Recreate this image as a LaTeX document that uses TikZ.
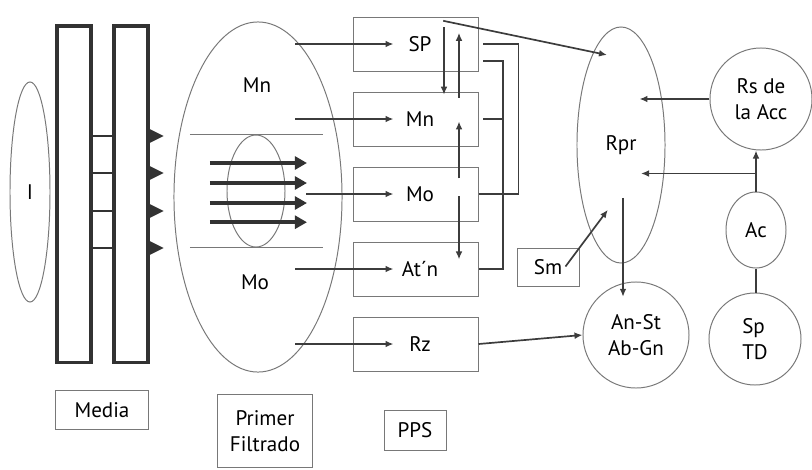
\documentclass[tikz,border=0pt]{standalone}
\usepackage{fontspec}
\setmainfont{PT Sans}
\usetikzlibrary{arrows.meta,positioning,shapes.geometric}
\definecolor{boxgray}{RGB}{120,120,120}
\definecolor{wiregray}{RGB}{60,60,60}
\definecolor{bargray}{RGB}{50,50,50}

\begin{document}
\begin{tikzpicture}[x=0.025cm,y=-0.025cm,>={Latex[length=2mm,width=1.7mm]},
    font=\fontsize{15}{18}\selectfont,node distance=0.5cm]
        \useasboundingbox (0,0) rectangle (812,469);
        \tikzset{
          box/.style={draw=boxgray,line width=0.7pt,minimum width=3.1cm,minimum height=1.35cm},
          tag/.style={draw=boxgray,line width=0.7pt},
          blob/.style={draw=boxgray,line width=0.7pt,ellipse,inner sep=0pt},
          wire/.style={wiregray,line width=1.2pt},
          bar/.style={draw=bargray,line width=2.2pt,minimum width=0.85cm,minimum height=8.4cm},
          flow/.style={-{Triangle[length=3mm,width=3.2mm]},bargray,line width=2.8pt}
        }
        % media
        \node[blob,minimum width=1cm,minimum height=5.5cm] (ins) at (30,192) {I};
        \node[bar] (barl) at (74,194) {};
        \node[bar] (barr) at (131,194) {};
        \foreach \y in {136,173,211,248} {
          \draw[bargray,line width=1.6pt] (barl.east |- 0,\y) -- (barr.west |- 0,\y);
          \fill[bargray] (barr.east |- 0,\y-7) -- ++(14,7) -- ++(-14,7) -- cycle;
        }
        \node[tag,minimum width=2.33cm,minimum height=0.98cm] (media) at (102,410) {Media};

        % primer filtrado
        \node[blob,minimum width=4.2cm,minimum height=8.75cm] (fil) at (258,197) {};
        \node (mnf) at (257,85) {Mn};
        \node (mof) at (255,282) {Mo};
        \node[blob,minimum width=1.45cm,minimum height=2.8cm] (core) at (256,191) {};
        \draw[boxgray,line width=0.7pt] ([xshift=-1.65cm]core.north) -- ([xshift=1.67cm]core.north);
        \draw[boxgray,line width=0.7pt] ([xshift=-1.65cm]core.south) -- ([xshift=1.67cm]core.south);
        \foreach \dy in {0.7,0.2,-0.3,-0.78}
          \draw[flow] ([shift={(-1.15cm,\dy cm)}]core.center) -- ++(97,0);
        \node[tag,minimum width=2.38cm,minimum height=1.83cm,align=center] (prim) at (265,431) {Primer\\Filtrado};

        % pps
        \node[box] (sp) at (416,44) {\hspace{0.2cm}SP};
        \node[box,below=of sp] (mn) {\hspace{0.2cm}Mn};
        \node[box,below=of mn] (mo) {\hspace{0.2cm}Mo};
        \node[box,below=of mo] (at) {\hspace{0.2cm}At´n};
        \node[box,below=of at] (rz) {\hspace{0.2cm}Rz};
        \node[tag,minimum width=1.55cm,minimum height=1cm] (pps) at (415,430) {PPS};
        \foreach \b in {sp,mn,at,rz}
          \draw[wire,->] ([xshift=-1.45cm]\b.west) -- ([xshift=1cm]\b.west);
        \draw[wire,->] ([xshift=-1.18cm]mo.west) -- ([xshift=1cm]mo.west);
        \draw[wire,->] ([shift={(0.7cm,0.42cm)}]sp.center) -- ([shift={(0.7cm,-0.08cm)}]mn.north);
        \draw[wire,->] ([shift={(1.075cm,-0.15cm)}]mn.north) -- ([shift={(1.075cm,0.28cm)}]sp.center);
        \draw[wire,->] ([shift={(1.075cm,0.39cm)}]mo.center) -- ([shift={(1.075cm,-0.06cm)}]mn.center);
        \draw[wire,->] ([shift={(1.075cm,-0.06cm)}]mo.center) -- ([shift={(1.075cm,0.24cm)}]at.center);
        \draw[wire] (mo.east) -- ++(40,0) |- ([xshift=0.12cm]sp.east);
        \draw[wire] ([shift={(0.12cm,-0.42cm)}]sp.east) -- ++(20,0) |- (at.east);
        \draw[wire] ([xshift=0.12cm]mn.east) -- ++(20,0);

        % respuesta
        \node[blob,minimum width=2.2cm,minimum height=5.9cm] (rpr) at (621,145) {Rpr};
        \node[blob,circle,minimum size=2.55cm,align=center] (rs) at (761,99) {Rs de\\la Acc};
        \node[blob,minimum width=1.5cm,minimum height=1.9cm] (ac) at (756,230) {Ac};
        \node[blob,circle,minimum size=2.3cm,align=left] (sptd) at (755,339) {Sp\\TD};
        \node[blob,circle,minimum size=2.65cm,align=center] (anst) at (636,335) {An-St\\Ab-Gn};
        \node[tag,minimum width=1.55cm,minimum height=0.95cm] (sm) at (548,267) {Sm\hspace{0.25cm}};
        \draw[wire,->] ([shift={(0.68cm,0.58cm)}]sp.center) -- ([shift={(-0.35cm,2.25cm)}]rpr.center);
        \draw[wire,->] (rs.west) -- ++(-70,0);
        \draw[wire,->] (ac.north) -- (ac.north |- rs.south);
        \draw[wire,->] ([yshift=0.45cm]ac.north) -- ++(-115,0);
        \draw[wire] (ac.south) -- (ac.south |- sptd.north);
        \draw[wire,->] ([shift={(0.05cm,-1.32cm)}]rpr.center) -- ++(0,99);
        \draw[wire,->] ([shift={(-0.35cm,-0.475cm)}]sm.north east) -- ([shift={(-0.33cm,-1.62cm)}]rpr.center);
        \draw[wire,->] (rz.east) -- (anst.west);
      \end{tikzpicture}
\end{document}
